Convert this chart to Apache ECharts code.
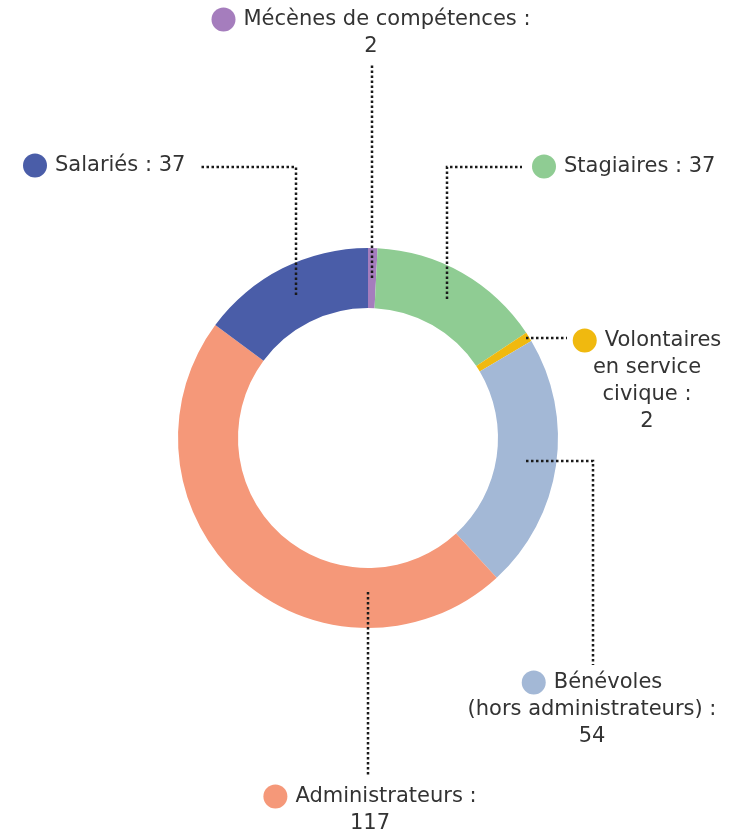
<!DOCTYPE html>
<html>
<head>
<meta charset="utf-8">
<script src="https://cdn.jsdelivr.net/npm/echarts@6/dist/echarts.min.js"></script>
<style>
  html, body { margin: 0; background: #fff; }
  #main { width: 751px; height: 832px; }
</style>
</head>
<body>
<div id="main"></div>
<script>
// data
const categories = ['Mécènes de compétences :', 'Stagiaires :', 'Volontaires\nen service\ncivique :', 'Bénévoles\n(hors administrateurs) :', 'Administrateurs :', 'Salariés :'];
const values = [2, 37, 2, 54, 117, 37];
const valueOnNewLine = [true, false, true, true, true, false];
const colors = ['#a57dbd', '#8fcc93', '#f0b90f', '#a3b8d6', '#f59879', '#4a5da8'];

// layout
const cx = 368, cy = 438, rIn = 130, rOut = 190;
const labelBox = [
    { x: 371, y: 6, align: 'center' },
    { x: 532, y: 153, align: 'left' },
    { x: 647, y: 327, align: 'center' },
    { x: 592, y: 669, align: 'center' },
    { x: 370, y: 783, align: 'center' },
    { x: 23, y: 152, align: 'left' }
];

/* ---------- leader lines, anchored on the ring ---------- */
const total = values.reduce((a, b) => a + b, 0);
let acc = 0;
const midAngles = values.map(v => {
    const m = (acc + v / 2) / total * 2 * Math.PI;
    acc += v;
    return m;
});
function ringPoint(angle, r) {
    return [Math.round(cx + r * Math.sin(angle)), Math.round(cy - r * Math.cos(angle))];
}
const rMid = (rIn + rOut) / 2;
const a0 = ringPoint(midAngles[0], rMid);
const a1 = ringPoint(midAngles[1], rMid);
const a2 = ringPoint(midAngles[2], rOut - 3);
const a3 = ringPoint(midAngles[3], rMid);
const a4 = ringPoint(Math.PI, rOut - 36);
const a5 = ringPoint(midAngles[5], rMid);
const routes = [
    [a0, [a0[0], 65]],
    [a1, [a1[0], 167], [522, 167]],
    [a2, [567, a2[1]]],
    [a3, [593, a3[1]], [593, 665]],
    [a4, [a4[0], 776]],
    [a5, [a5[0], 167], [200, 167]]
];

const textColor = '#333';
const font = '"DejaVu Sans", "Noto Sans", sans-serif';

const pieData = values.map((v, i) => ({ name: categories[i], value: v, itemStyle: { color: colors[i] } }));

const chart = echarts.init(document.getElementById('main'));
chart.setOption({
    animation: false,
    series: [{
        // the ring itself
        type: 'pie',
        z: 1,
        center: [cx, cy],
        radius: [rIn, rOut],
        startAngle: 90,
        clockwise: true,
        silent: true,
        label: { show: false },
        labelLine: { show: false },
        data: pieData
    }, {
        // same slices, transparent, only for labels + leader lines on top
        type: 'pie',
        z: 3,
        center: [cx, cy],
        radius: [rIn, rOut],
        startAngle: 90,
        clockwise: true,
        silent: true,
        avoidLabelOverlap: false,
        itemStyle: { color: 'rgba(0,0,0,0)' },
        labelLine: {
            show: true,
            lineStyle: { color: '#1a1a1a', width: 2.5, type: [2.5, 2.5] }
        },
        labelLayout: function (params) {
            const b = labelBox[params.dataIndex];
            return {
                x: b.x,
                y: b.y,
                align: b.align,
                verticalAlign: 'top',
                labelLinePoints: routes[params.dataIndex]
            };
        },
        data: values.map((v, i) => ({
            name: categories[i],
            value: v,
            label: {
                show: true,
                position: 'outside',
                color: textColor,
                fontFamily: font,
                fontSize: 21,
                lineHeight: 27,
                align: labelBox[i].align,
                formatter: '{dot|}{g|}' + categories[i] + (valueOnNewLine[i] ? '\n' : ' ') + v,
                rich: {
                    dot: { width: 24, height: 24, borderRadius: 12, backgroundColor: colors[i] },
                    g: { width: 8 }
                }
            }
        }))
    }]
});
</script>
</body>
</html>
